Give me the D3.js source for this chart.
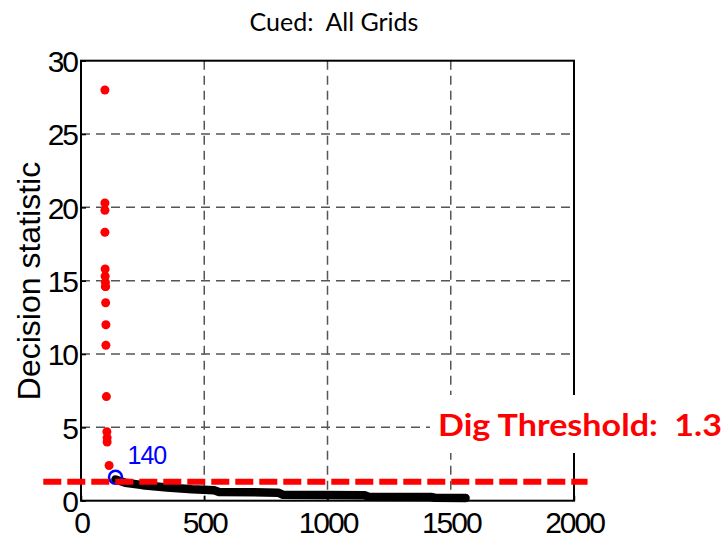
<!DOCTYPE html>
<html>
<head>
<meta charset="utf-8">
<script src="https://cdn.jsdelivr.net/npm/d3@7"></script>
<style>
  html, body { margin: 0; padding: 0; background: #fff; }
  svg { display: block; }
  text { white-space: pre; }
</style>
</head>
<body>
<svg id="chart" width="726" height="540"></svg>
<script>
// ---- data ----
const titleText = "Cued:  All Grids";
const yLabelText = "Decision statistic";
const xTicks = [0, 500, 1000, 1500, 2000];
const yTicks = [0, 5, 10, 15, 20, 25, 30];

// red points (detections above threshold)
const dotX = [97, 97, 97, 97, 98, 98, 99, 99, 100, 100, 101, 101, 103, 105, 106, 106, 114];
const dotY = [28.0, 20.3, 19.8, 18.3, 15.8, 15.3, 14.9, 14.6, 14.6, 13.5, 12.0, 10.6, 7.1, 4.7, 4.3, 4.0, 2.4];

// black sorted statistic curve
const lineX = [140, 180, 250, 350, 450, 540, 560, 800, 820, 1150, 1165, 1420, 1435, 1560];
const lineY = [1.45, 1.22, 1.06, 0.9, 0.78, 0.72, 0.6, 0.55, 0.4, 0.38, 0.27, 0.25, 0.2, 0.18];

// marked point
const markX = [140];
const markY = [1.6];
const markLabel = ["140"];

// threshold
const thresholdValue = 1.3;
const thresholdExtent = [-153, 2055];
const thresholdLabel = "Dig Threshold:  1.3";

// ---- layout ----
const svg = d3.select("#chart");
const x = d3.scaleLinear().domain([0, 2000]).range([81, 574]);
const y = d3.scaleLinear().domain([0, 30]).range([500.7, 60.7]);

// title
svg.append("text")
  .attr("x", 334).attr("y", 31)
  .attr("text-anchor", "middle")
  .style("font-family", "Lato, 'Open Sans', sans-serif")
  .style("font-size", "25px")
  .attr("fill", "#000")
  .text(titleText);

// grid lines
const grid = svg.append("g");
grid.selectAll("line.gx").data(xTicks.slice(1, -1)).enter().append("line")
  .attr("x1", d => x(d)).attr("x2", d => x(d))
  .attr("y1", y(30)).attr("y2", y(0))
  .attr("stroke", "#555").attr("stroke-width", 1.5)
  .attr("stroke-dasharray", "9,6");
grid.selectAll("line.gy").data(yTicks.slice(1, -1)).enter().append("line")
  .attr("y1", d => y(d)).attr("y2", d => y(d))
  .attr("x1", x(0)).attr("x2", x(2000))
  .attr("stroke", "#555").attr("stroke-width", 1.5)
  .attr("stroke-dasharray", "9,6");

// axes box
svg.append("rect")
  .attr("x", x(0)).attr("y", y(30))
  .attr("width", x(2000) - x(0)).attr("height", y(0) - y(30))
  .attr("fill", "none").attr("stroke", "#000").attr("stroke-width", 2);

// axes
const xAxis = svg.append("g")
  .attr("transform", `translate(0,${y(0)})`)
  .call(d3.axisBottom(x).tickValues(xTicks).tickSize(-5).tickPadding(10).tickFormat(d3.format("d")));
const yAxis = svg.append("g")
  .attr("transform", `translate(${x(0)},0)`)
  .call(d3.axisLeft(y).tickValues(yTicks).tickSize(-5).tickPadding(5).tickFormat(d3.format("d")));
[xAxis, yAxis].forEach(a => {
  a.select(".domain").remove();
  a.selectAll(".tick line").attr("stroke", "#000").attr("stroke-width", 1.5);
  a.selectAll(".tick text")
    .attr("fill", "#000")
    .style("font-family", "Arial, 'Liberation Sans', sans-serif")
    .style("font-size", "30px")
    .style("letter-spacing", "-2px");
});
xAxis.selectAll(".tick text").attr("dy", "0.71em").attr("y", 11);
yAxis.selectAll(".tick text").attr("dy", "0.36em").attr("x", -4);

// y label
svg.append("text")
  .attr("transform", `translate(40,${281}) rotate(-90)`)
  .attr("text-anchor", "middle")
  .style("font-family", "Arial, 'Liberation Sans', sans-serif")
  .style("font-size", "32px")
  .attr("fill", "#000")
  .text(yLabelText);

// black curve
const pts = lineX.map((d, i) => [d, lineY[i]]);
svg.append("path")
  .attr("d", d3.line().x(d => x(d[0])).y(d => y(d[1]))(pts))
  .attr("fill", "none").attr("stroke", "#000")
  .attr("stroke-width", 8.5).attr("stroke-linecap", "round").attr("stroke-linejoin", "round");

// red dots
svg.selectAll("circle.dot").data(dotX.map((d, i) => [d, dotY[i]])).enter().append("circle")
  .attr("cx", d => x(d[0])).attr("cy", d => y(d[1]))
  .attr("r", 4.5).attr("fill", "#ff0000");

// marked point
const markData = markX.map((d, i) => [d, markY[i], markLabel[i]]);
svg.selectAll("circle.mark").data(markData).enter().append("circle")
  .attr("cx", d => x(d[0])).attr("cy", d => y(d[1]))
  .attr("r", 6.5).attr("fill", "none").attr("stroke", "#0000ff").attr("stroke-width", 2.5);
svg.selectAll("text.mark").data(markData).enter().append("text")
  .attr("x", d => x(d[0]) + 12).attr("y", d => y(d[1]) - 13)
  .style("font-family", "Arial, 'Liberation Sans', sans-serif")
  .style("font-size", "25px")
  .style("letter-spacing", "-1px")
  .attr("fill", "#0000ff")
  .text(d => d[2]);

// threshold line
svg.append("line")
  .attr("x1", x(thresholdExtent[0])).attr("x2", x(thresholdExtent[1]))
  .attr("y1", y(thresholdValue)).attr("y2", y(thresholdValue))
  .attr("stroke", "#ff0000").attr("stroke-width", 6)
  .attr("stroke-dasharray", "18,6");

// threshold label with white background
svg.append("rect")
  .attr("x", 430).attr("y", 395).attr("width", 296).attr("height", 58)
  .attr("fill", "#fff");
svg.append("text")
  .attr("x", 438).attr("y", 436)
  .style("font-family", "Lato, 'Open Sans', sans-serif")
  .style("font-weight", "bold")
  .style("font-size", "31px")
  .attr("fill", "#ff0000")
  .attr("textLength", 284).attr("lengthAdjust", "spacingAndGlyphs")
  .text(thresholdLabel);
</script>
</body>
</html>
